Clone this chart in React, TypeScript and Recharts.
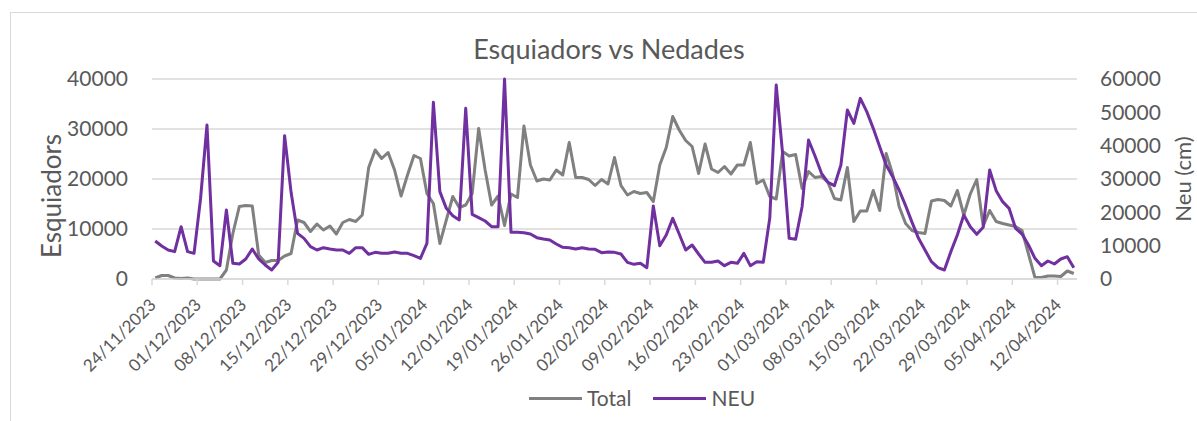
import React from "react";
import {
  CartesianGrid,
  Line,
  LineChart,
  XAxis,
  YAxis,
} from "recharts";

// daily skier totals (left axis) and snow depth (right axis), 24/11/2023 -> 14/04/2024
const totalSkiers = [
  200, 700, 700, 200, 100, 200, 0, 0, 0, 0, 0, 1800, 9100, 14500, 14700, 14600,
  4800, 3300, 3700, 3700, 4600, 5100, 11800, 11300, 9500, 11000, 9800, 10600,
  9000, 11300, 11900, 11500, 12800, 22300, 25800, 24100, 25300, 21800, 16600,
  20800, 24700, 24100, 17100, 15100, 7100, 11800, 16500, 14300, 14800, 17100,
  30100, 21800, 14800, 16600, 10700, 17000, 16300, 30600, 22800, 19600, 20000,
  19800, 21800, 20800, 27300, 20300, 20300, 19900, 18700, 19900, 19000, 24300,
  18700, 16800, 17500, 17100, 17300, 15500, 22800, 26300, 32500, 29800, 27700,
  26500, 21100, 27000, 22000, 21300, 22500, 21000, 22800, 22800, 27300, 19100,
  19800, 16500, 16000, 25500, 24600, 24900, 18100, 21500, 20300, 20500, 19300,
  16100, 15800, 22300, 11500, 13600, 13600, 17700, 13700, 25100, 21000, 14500,
  11100, 9700, 9300, 9100, 15600, 15900, 15700, 14600, 17700, 12800, 17000,
  19900, 10600, 13700, 11500, 11100, 10800, 10500, 9700, 5000, 300, 300, 600,
  600, 500, 1600, 1100,
];

const snowNeu = [
  11400, 9900, 8700, 8200, 15700, 8200, 7700, 24000, 46200, 5400, 4000, 20700,
  4700, 4500, 6000, 9000, 6000, 4200, 2700, 5000, 43000, 26000, 13700, 12200,
  9700, 8700, 9400, 9000, 8700, 8700, 7700, 9400, 9400, 7400, 8000, 7700, 7700,
  8100, 7700, 7700, 7000, 6200, 10700, 53000, 26200, 21200, 19000, 17700, 51200,
  19400, 18400, 17400, 15700, 15700, 60000, 14000, 14000, 13900, 13500, 12400,
  12000, 11700, 10500, 9500, 9400, 9000, 9400, 9000, 8900, 7900, 8100, 8000,
  7500, 5000, 4400, 4700, 3400, 21900, 10000, 13200, 18200, 13500, 8700, 10200,
  7500, 5000, 5000, 5400, 4000, 5000, 4700, 7700, 4000, 5200, 5000, 18200,
  58200, 37400, 12200, 11900, 21700, 41700, 36900, 31700, 29000, 28000, 34200,
  50700, 46700, 54200, 50200, 45200, 39700, 34200, 30700, 26700, 22000, 17000,
  12200, 8700, 5200, 3400, 2700, 8200, 13200, 19200, 15700, 13400, 15500, 32700,
  26500, 23200, 21200, 15200, 13500, 10200, 6200, 4000, 5400, 4500, 6000, 6700,
  3400,
];

const tickLabels = [
  "24/11/2023", "01/12/2023", "08/12/2023", "15/12/2023", "22/12/2023",
  "29/12/2023", "05/01/2024", "12/01/2024", "19/01/2024", "26/01/2024",
  "02/02/2024", "09/02/2024", "16/02/2024", "23/02/2024", "01/03/2024",
  "08/03/2024", "15/03/2024", "22/03/2024", "29/03/2024", "05/04/2024",
  "12/04/2024",
];

const leftTicks = [0, 10000, 20000, 30000, 40000];
const rightTicks = [0, 10000, 20000, 30000, 40000, 50000, 60000];

const START = Date.UTC(2023, 10, 24);
const pad = (n: number) => String(n).padStart(2, "0");
const dates = totalSkiers.map((_, i) => {
  const d = new Date(START + i * 86400000);
  return `${pad(d.getUTCDate())}/${pad(d.getUTCMonth() + 1)}/${d.getUTCFullYear()}`;
});

const data = dates.map((date, i) => ({
  i,
  date,
  total: totalSkiers[i],
  neu: snowNeu[i],
}));

// ticks sit on the boundary between days, like Excel's date axis
const xTicks = tickLabels.map((_, k) => k * 7 - 0.5);

const FONT = "Lato, sans-serif";
const TEXT = "#595959";
const GRID = "#d9d9d9";
const GRAY = "#808080";
const PURPLE = "#7030a0";

const DateTick = (props: any) => {
  const { x, y, payload } = props;
  const label = tickLabels[Math.round((payload.value + 0.5) / 7)];
  const tx = x + 5;
  const ty = y + 21;
  return (
    <text
      x={tx}
      y={ty}
      transform={`rotate(-45 ${tx} ${ty})`}
      textAnchor="end"
      fill={TEXT}
      fontSize={17}
      fontFamily={FONT}
    >
      {label}
    </text>
  );
};

export default function App() {
  return (
    <div
      style={{
        position: "relative",
        width: 1197,
        height: 421,
        overflow: "hidden",
        background: "#fff",
        fontFamily: FONT,
        color: TEXT,
      }}
    >
      <style>{`body{margin:0;overflow:hidden}`}</style>
      {/* chart frame, only top and left edges are in view */}
      <div
        style={{
          position: "absolute",
          left: 10,
          top: 12,
          width: 1300,
          height: 500,
          borderTop: `1px solid ${GRID}`,
          borderLeft: `1px solid ${GRID}`,
        }}
      />
      <div
        style={{
          position: "absolute",
          left: 409,
          width: 400,
          top: 33,
          textAlign: "center",
          fontSize: 27,
          lineHeight: "32.4px",
        }}
      >
        Esquiadors vs Nedades
      </div>
      <div
        style={{
          position: "absolute",
          left: 51,
          top: 196,
          transform: "translate(-50%, -50%) rotate(-90deg)",
          whiteSpace: "nowrap",
          fontSize: 26,
        }}
      >
        Esquiadors
      </div>
      <div
        style={{
          position: "absolute",
          left: 1183,
          top: 179,
          transform: "translate(-50%, -50%) rotate(-90deg)",
          whiteSpace: "nowrap",
          fontSize: 22,
          lineHeight: "24px",
        }}
      >
        Neu (cm)
      </div>

      <div style={{ position: "absolute", left: 0, top: 0 }}>
        <LineChart
          width={1197}
          height={421}
          data={data}
          margin={{ top: 79, right: 0, bottom: 42, left: 0 }}
          style={{ fontFamily: FONT }}
        >
          <CartesianGrid
            yAxisId="left"
            vertical={false}
            stroke={GRID}
            strokeWidth={1.5}
          />
          <XAxis
            dataKey="i"
            type="number"
            domain={[-0.5, 142.5]}
            ticks={xTicks}
            interval={0}
            height={100}
            tickSize={6}
            tickMargin={0}
            axisLine={{ stroke: GRID, strokeWidth: 1.5 }}
            tickLine={{ stroke: GRID, strokeWidth: 1.5 }}
            tick={<DateTick />}
          />
          <YAxis
            yAxisId="left"
            orientation="left"
            width={152}
            domain={[0, 40000]}
            ticks={leftTicks}
            interval={0}
            axisLine={false}
            tickLine={false}
            tickSize={0}
            tickMargin={24}
            tick={{ fill: TEXT, fontSize: 21, fontFamily: FONT }}
          />
          <YAxis
            yAxisId="right"
            orientation="right"
            width={120}
            domain={[0, 60000]}
            ticks={rightTicks}
            interval={0}
            axisLine={false}
            tickLine={false}
            tickSize={0}
            tickMargin={23}
            tick={{ fill: TEXT, fontSize: 21, fontFamily: FONT }}
          />
          <Line
            yAxisId="left"
            dataKey="total"
            name="Total"
            type="linear"
            stroke={GRAY}
            strokeWidth={3}
            dot={false}
            strokeLinejoin="round"
            isAnimationActive={false}
          />
          <Line
            yAxisId="right"
            dataKey="neu"
            name="NEU"
            type="linear"
            stroke={PURPLE}
            strokeWidth={3}
            dot={false}
            strokeLinejoin="round"
            isAnimationActive={false}
          />
        </LineChart>
      </div>

      <div
        style={{
          position: "absolute",
          left: 529,
          top: 385,
          display: "flex",
          alignItems: "center",
          fontSize: 21,
          lineHeight: "26px",
        }}
      >
        <span style={{ width: 53, height: 3, background: GRAY, display: "inline-block" }} />
        <span style={{ marginLeft: 5 }}>Total</span>
        <span
          style={{
            width: 53,
            height: 3,
            background: PURPLE,
            display: "inline-block",
            marginLeft: 22,
          }}
        />
        <span style={{ marginLeft: 5 }}>NEU</span>
      </div>
    </div>
  );
}
